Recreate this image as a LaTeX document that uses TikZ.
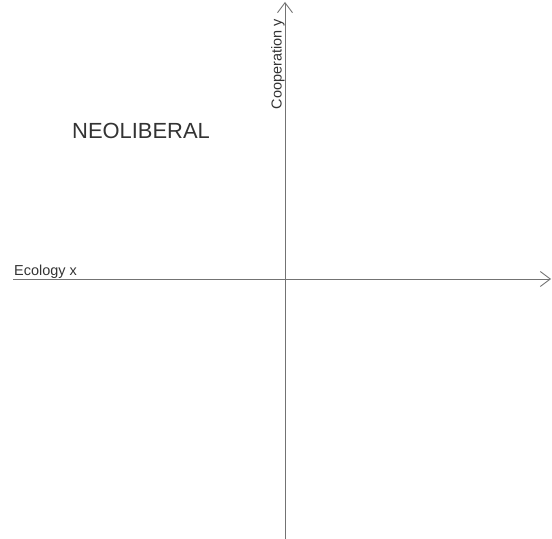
\documentclass[tikz,border=0pt]{standalone}
\usepackage{fontspec}
\setmainfont{Liberation Sans}
\usetikzlibrary{arrows.meta, positioning}
\tikzset{
  axisline/.style={
    -{Straight Barb[length=10bp, width=15bp]},
    line width=0.9bp, color=black!55
  },
  axislabel/.style={
    inner sep=0pt, font=\fontsize{14.5}{17}\selectfont,
    text=black!80
  },
  quadlabel/.style={
    inner sep=0pt, font=\fontsize{22}{26}\selectfont,
    text=black!80
  },
}
\begin{document}
\begin{tikzpicture}[x=1bp, y=1bp]
    \useasboundingbox (0,0) rectangle (552,539);
    \coordinate (xstart) at (13,260);
    \coordinate (xend)   at (551,260);
    \coordinate (ystart) at (285,0);
    \coordinate (yend)   at (285,537);
    \draw[axisline] (xstart) -- (xend);
    \draw[axisline] (ystart) -- (yend);
    \node[axislabel, anchor=base west] (xlab) at (14,263) {Ecology x};
    \node[axislabel, rotate=90, anchor=base east] (ylab) at (281.5,520) {Cooperation y};
    \node[quadlabel] (neolib) at (141,408) {NEOLIBERAL};
\end{tikzpicture}
\end{document}
